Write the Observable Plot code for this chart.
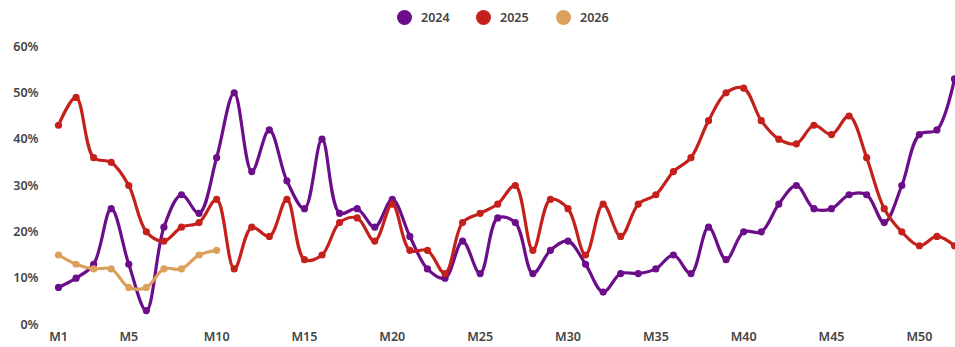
<!DOCTYPE html>
<html>
<head>
<meta charset="utf-8">
<script src="https://cdn.jsdelivr.net/npm/d3@7"></script>
<script src="https://cdn.jsdelivr.net/npm/@observablehq/plot@0.6"></script>
<style>
  html, body { margin: 0; padding: 0; background: #fff; }
  body { width: 955px; height: 347px; overflow: hidden; font-family: "Noto Sans", "Open Sans", sans-serif; }
  #legend { height: 35px; position: relative; }
  .item { position: absolute; top: 9px; display: flex; align-items: center; font-size: 12.5px; color: #444; font-weight: 600; }
  .dot { width: 15px; height: 15px; border-radius: 50%; margin-right: 9px; }
</style>
</head>
<body>
<div id="legend"></div>
<div id="chart"></div>
<script>
const years = ["2024", "2025", "2026"];
const colors = ["#6c0d8a", "#c4211c", "#dba15c"];
const weeks = d3.range(1, 53);
const tickWeeks = [1, 5, 10, 15, 20, 25, 30, 35, 40, 45, 50];
const yTicks = [0, 0.1, 0.2, 0.3, 0.4, 0.5, 0.6];

const values2024 = [8, 10, 13, 25, 13, 3, 21, 28, 24, 36, 50, 33, 42, 31, 25, 40, 24, 25, 21, 27, 19, 12, 10, 18, 11, 23, 22, 11, 16, 18, 13, 7, 11, 11, 12, 15, 11, 21, 14, 20, 20, 26, 30, 25, 25, 28, 28, 22, 30, 41, 42, 53];
const values2025 = [43, 49, 36, 35, 30, 20, 18, 21, 22, 27, 12, 21, 19, 27, 14, 15, 22, 23, 18, 26, 16, 16, 11, 22, 24, 26, 30, 16, 27, 25, 15, 26, 19, 26, 28, 33, 36, 44, 50, 51, 44, 40, 39, 43, 41, 45, 36, 25, 20, 17, 19, 17];
const values2026 = [15, 13, 12, 12, 8, 8, 12, 12, 15, 16];

const series = [values2024, values2025, values2026];
const data = series.flatMap((vals, i) =>
  vals.map((v, j) => ({ year: years[i], week: weeks[j], value: v / 100 }))
);

// legend
const legend = document.getElementById("legend");
const legendX = [397, 476, 556];
years.forEach((y, i) => {
  const it = document.createElement("div");
  it.className = "item";
  it.style.left = legendX[i] + "px";
  it.innerHTML = `<span class="dot" style="background:${colors[i]}"></span>${y}`;
  legend.appendChild(it);
});

const chart = Plot.plot({
  width: 955,
  height: 312,
  marginLeft: 58,
  marginRight: 1,
  marginTop: 11,
  marginBottom: 23,
  style: { fontFamily: "Noto Sans, sans-serif", fontSize: "12.5px", color: "#444", fontWeight: 600, overflow: "visible" },
  x: { domain: [1, 52], ticks: tickWeeks, tickFormat: d => "M" + d, tickSize: 0, tickPadding: 8, label: null },
  y: { domain: [0, 0.6], ticks: yTicks, tickFormat: d3.format(".0%"), tickSize: 0, tickPadding: 20, label: null },
  color: { domain: years, range: colors },
  marks: [
    Plot.lineY(data, { x: "week", y: "value", stroke: "year", z: "year", curve: "catmull-rom", strokeWidth: 3.2 }),
    Plot.dot(data, { x: "week", y: "value", fill: "year", r: 3.6 })
  ]
});
document.getElementById("chart").appendChild(chart);
</script>
</body>
</html>
